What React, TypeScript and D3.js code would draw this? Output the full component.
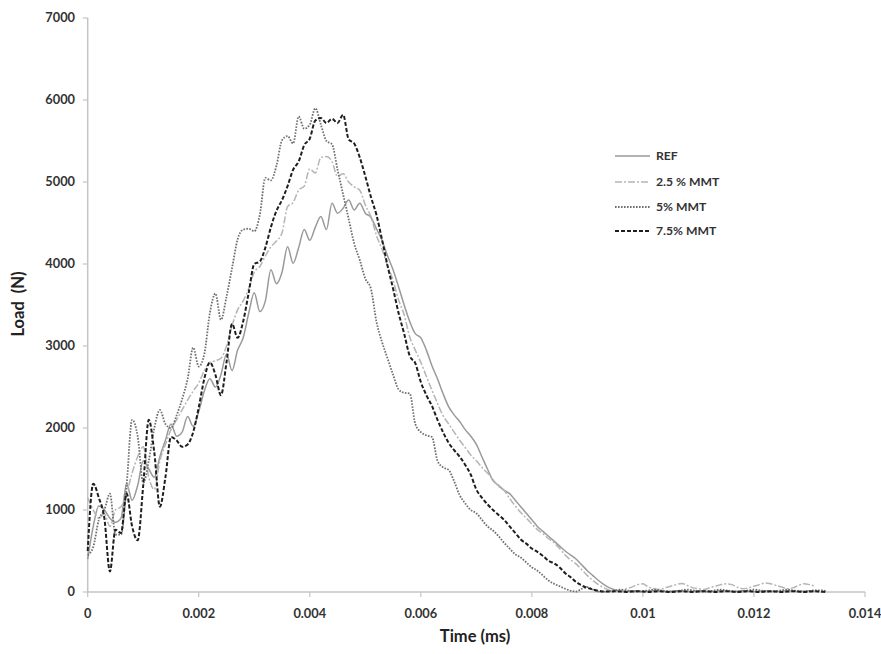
import React from "react";
import * as d3 from "d3";

const STEP = 0.0001;
const refLoad = [400,800,1050,1000,900,850,900,1320,1120,1300,1600,1500,1400,1650,1850,2050,1900,1950,2140,2020,2200,2450,2600,2500,2650,2900,2700,2950,3100,3400,3650,3420,3550,3930,3760,3900,4210,4010,4200,4420,4290,4450,4580,4420,4740,4620,4680,4780,4660,4740,4620,4570,4430,4290,4100,3930,3720,3500,3300,3150,3100,2950,2760,2600,2420,2260,2160,2080,1980,1900,1800,1650,1500,1360,1300,1240,1200,1120,1040,960,880,800,740,680,620,560,500,450,400,330,260,200,140,90,50,25,10,10,15,10,5,10,15,10,5,10,15,10,5,10,15,10,5,10,15,10,5,10,15,10,5,10,15,10,5,10,15,10,5,10,15,10];
const mmt25Load = [1150,1000,900,950,800,1000,1040,1200,1450,1650,1770,1400,1250,1600,1800,1980,2100,2220,2340,2450,2550,2700,2800,2820,2850,3000,3250,3440,3550,3700,3900,3970,4100,4210,4280,4380,4700,4750,4900,4950,5160,5110,5300,5310,5250,5070,5100,5000,4940,4900,4720,4580,4350,4180,3980,3800,3560,3380,3110,2950,2800,2630,2460,2300,2150,2050,1950,1850,1760,1670,1600,1520,1450,1370,1290,1240,1140,1050,970,900,830,760,710,650,600,530,450,390,340,270,200,140,90,50,20,10,20,40,60,90,100,60,40,30,50,70,90,105,80,50,40,30,50,70,90,100,90,60,40,50,70,90,110,100,80,60,40,50,80,100,90,70];
const mmt5Load = [450,550,880,1000,1200,700,700,1300,2100,1900,1330,1600,2000,2220,2050,2000,2150,2350,2600,2980,2750,2900,3400,3640,3320,3600,3950,4300,4420,4430,4400,4600,5050,5020,5200,5510,5560,5470,5800,5650,5700,5900,5700,5500,5460,5150,4850,4550,4250,4050,3820,3700,3300,3050,2850,2650,2470,2430,2420,2050,1950,1910,1890,1600,1520,1490,1350,1180,1080,1000,960,880,800,750,680,600,530,460,420,360,300,260,200,140,100,70,40,15,5,40,60,30,5,5,10,20,30,20,10,5,10,20,30,20,10,5,10,20,30,20,10,5,10,20,30,20,10,5,10,20,30,20,10,5,10,20,30,20,10,5,10,20,20,10];
const mmt75Load = [500,1320,1150,900,250,760,720,1200,800,630,1300,2100,1700,1040,1400,1890,1850,1770,1800,1950,2250,2600,2800,2650,2400,2800,3270,3100,3300,3650,4000,4030,4200,4450,4650,4780,4950,5150,5250,5450,5530,5750,5780,5720,5770,5720,5820,5520,5470,5300,5070,4820,4600,4300,3980,3700,3400,3150,2880,2790,2560,2400,2270,2100,1950,1820,1730,1650,1550,1430,1250,1150,1070,1000,940,880,800,720,640,590,530,490,440,380,350,300,230,180,120,80,50,30,15,5,5,10,5,0,5,10,5,0,5,10,5,0,5,10,5,0,5,10,5,0,5,10,5,0,5,10,5,0,5,10,5,0,5,10,5,0,5,10,5,0];

const seriesNames = ["REF", "2.5 % MMT", "5% MMT", "7.5% MMT"];
const seriesData = [refLoad, mmt25Load, mmt5Load, mmt75Load];
const xTicks = [0, 0.002, 0.004, 0.006, 0.008, 0.01, 0.012, 0.014];
const xTickLabels = ["0", "0.002", "0.004", "0.006", "0.008", "0.01", "0.012", "0.014"];
const yTicks = [0, 1000, 2000, 3000, 4000, 5000, 6000, 7000];

const styles = [
  { stroke: "#9a9a9a", width: 1.5, dash: "" },
  { stroke: "#b5b5b5", width: 1.5, dash: "7,2,2,2" },
  { stroke: "#6f6f6f", width: 1.8, dash: "1.6,1.4" },
  { stroke: "#1e1e1e", width: 2, dash: "4,2" },
];

export default function App() {
  const W = 881, H = 654;
  const left = 87.7, right = 865, top = 18, bottom = 592;
  const x = d3.scaleLinear().domain([0, 0.014]).range([left, right]);
  const y = d3.scaleLinear().domain([0, 7000]).range([bottom, top]);
  const line = d3
    .line<number>()
    .x((_, i) => x(i * STEP))
    .y((v) => y(v))
    .curve(d3.curveMonotoneX);
  const font = "Lato, 'Open Sans', sans-serif";
  const axisColor = "#c4c4c4";
  const legendX = 615, legendY = [156, 182, 207, 231];
  return (
    <svg width={W} height={H} style={{ position: "absolute", left: 0, top: 0, background: "#fff" }}>
      <line x1={left} x2={left} y1={top} y2={bottom} stroke={axisColor} strokeWidth={1.5} />
      <line x1={left} x2={right} y1={bottom} y2={bottom} stroke={axisColor} strokeWidth={1.5} />
      {yTicks.map((t) => (
        <g key={"y" + t}>
          <line x1={left - 5} x2={left} y1={y(t)} y2={y(t)} stroke={axisColor} strokeWidth={1.2} />
          <text x={75} y={y(t)} dy="0.35em" textAnchor="end" fontFamily={font} fontWeight="bold" fontSize={12.8} fill="#333">
            {t}
          </text>
        </g>
      ))}
      {xTicks.map((t, i) => (
        <g key={"x" + i}>
          <line x1={x(t)} x2={x(t)} y1={bottom} y2={bottom + 5} stroke={axisColor} strokeWidth={1.2} />
          <text x={x(t)} y={618} textAnchor="middle" fontFamily={font} fontWeight="bold" fontSize={12.8} fill="#333">
            {xTickLabels[i]}
          </text>
        </g>
      ))}
      <text x={475} y={642} textAnchor="middle" fontFamily={font} fontWeight="bold" fontSize={16.5} fill="#222">
        Time (ms)
      </text>
      <text transform="translate(24,304) rotate(-90)" textAnchor="middle" fontFamily={font} fontWeight="bold" fontSize={16.5} fill="#222" style={{ whiteSpace: "pre" }}>
        {"Load  (N)"}
      </text>
      {seriesData.map((d, k) => (
        <path key={"s" + k} d={line(d) || ""} fill="none" stroke={styles[k].stroke} strokeWidth={styles[k].width} strokeDasharray={styles[k].dash} />
      ))}
      {seriesNames.map((n, k) => (
        <g key={"l" + k}>
          <line x1={legendX} x2={legendX + 35} y1={legendY[k]} y2={legendY[k]} stroke={styles[k].stroke} strokeWidth={styles[k].width} strokeDasharray={styles[k].dash} />
          <text x={legendX + 41} y={legendY[k]} dy="0.35em" fontFamily={font} fontWeight="bold" fontSize={12.2} fill="#333">
            {n}
          </text>
        </g>
      ))}
    </svg>
  );
}
